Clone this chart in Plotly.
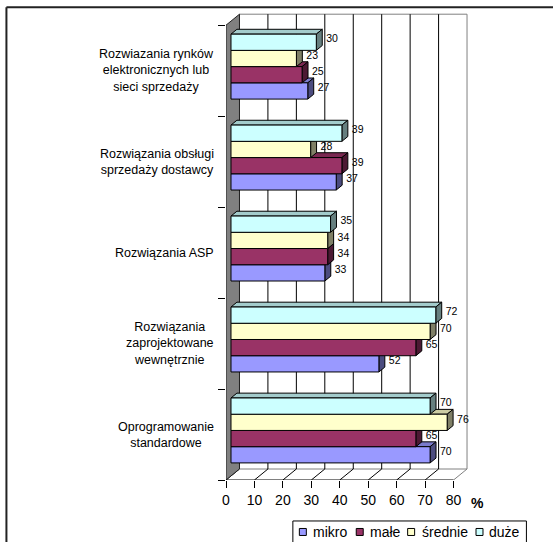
import plotly.graph_objects as go

# ---- data -------------------------------------------------------------
categories = [
    "Oprogramowanie<br>standardowe",
    "Rozwiązania<br>zaprojektowane<br>wewnętrznie",
    "Rozwiązania ASP",
    "Rozwiązania obsługi<br>sprzedaży dostawcy",
    "Rozwiazania rynków<br>elektronicznych lub<br>sieci sprzedaży",
]
series_names = ["mikro", "małe", "średnie", "duże"]
mikro = [70, 52, 33, 37, 27]
male = [65, 65, 34, 39, 25]
srednie = [76, 70, 34, 28, 23]
duze = [70, 72, 35, 39, 30]
x_ticks = [0, 10, 20, 30, 40, 50, 60, 70, 80]

series_values = [mikro, male, srednie, duze]
front_colors = ["#9999FF", "#993366", "#FFFFCC", "#CCFFFF"]

# ---- geometry (pixels) -----------------------------------------------
W, H = 553, 542
LEFT = 226.0          # pixel of x = 0 on the front plane
BOTTOM = 480.0        # pixel of the front floor line
SX = 2.85             # px per percent
SY = 91.0             # px per category
X_MAX = 90.0
Y_MAX = 5.2
PW = X_MAX * SX
PH = Y_MAX * SY

DX = 13.5 / SX        # wall depth offset in x units
DY = 11.0 / SY        # wall depth offset in y units
F1, F2 = 0.37, 0.81   # front / back depth of the bars
FM = (F1 + F2) / 2
GROUP = 0.714
BH = GROUP / 4
LABEL_PAD = 4.0 / SX  # gap between bar end and its value label


def shade(hex_color, k):
    h = hex_color.lstrip("#")
    r, g, b = (int(h[i:i + 2], 16) for i in (0, 2, 4))
    return "#%02x%02x%02x" % (int(r * k), int(g * k), int(b * k))


def px_x(p):
    return (p - LEFT) / PW


def px_y(p):
    return (BOTTOM - p) / PH


FONT = "Arial, 'Liberation Sans', sans-serif"

fig = go.Figure()
shapes = []

# ---- walls, floor and grid -------------------------------------------
n_cat = len(categories)
x_end = x_ticks[-1]
# back wall
shapes.append(dict(type="path", xref="x", yref="y", layer="below",
                   path=f"M{DX},{DY} L{x_end + DX},{DY} L{x_end + DX},{n_cat + DY} L{DX},{n_cat + DY} Z",
                   fillcolor="white", line=dict(color="#808080", width=1)))
# grid on back wall and floor
for t in x_ticks[1:-1]:
    shapes.append(dict(type="line", xref="x", yref="y", layer="below",
                       x0=t + DX, x1=t + DX, y0=DY, y1=n_cat + DY,
                       line=dict(color="#000000", width=1)))
for t in x_ticks:
    shapes.append(dict(type="line", xref="x", yref="y", layer="below",
                       x0=t, x1=t + DX, y0=0, y1=DY,
                       line=dict(color="#000000" if t < x_end else "#808080", width=1)))
# left side wall
shapes.append(dict(type="path", xref="x", yref="y", layer="below",
                   path=f"M0,0 L{DX},{DY} L{DX},{n_cat + DY} L0,{n_cat} Z",
                   fillcolor="#808080", line=dict(color="#202020", width=1)))
# front floor line (x axis line)
shapes.append(dict(type="line", xref="x", yref="y", layer="below",
                   x0=0, x1=x_end, y0=0, y1=0, line=dict(color="#000000", width=1)))

# ---- 3D bars ------------------------------------------------------------
def bar_faces(c, s, v):
    y0 = c + (1 - GROUP) / 2 + s * BH
    y1 = y0 + BH
    a1x, a1y = F1 * DX, F1 * DY
    a2x, a2y = F2 * DX, F2 * DY
    front = [(a1x, y0 + a1y), (v + a1x, y0 + a1y), (v + a1x, y1 + a1y), (a1x, y1 + a1y)]
    top = [(a1x, y1 + a1y), (v + a1x, y1 + a1y), (v + a2x, y1 + a2y), (a2x, y1 + a2y)]
    side = [(v + a1x, y0 + a1y), (v + a2x, y0 + a2y), (v + a2x, y1 + a2y), (v + a1x, y1 + a1y)]
    return front, top, side


def poly_xy(polys):
    xs, ys = [], []
    for p in polys:
        for (x, y) in p + [p[0]]:
            xs.append(x)
            ys.append(y)
        xs.append(None)
        ys.append(None)
    return xs, ys


for s, (name, vals, col) in enumerate(zip(series_names, series_values, front_colors)):
    fronts, tops, sides = [], [], []
    for c, v in enumerate(vals):
        f, t, sd = bar_faces(c, s, v)
        fronts.append(f)
        tops.append(t)
        sides.append(sd)
    for polys, fill in ((tops, shade(col, 0.8)), (sides, shade(col, 0.5)), (fronts, col)):
        xs, ys = poly_xy(polys)
        fig.add_trace(go.Scatter(x=xs, y=ys, mode="lines", fill="toself", fillcolor=fill,
                                 line=dict(color="#000000", width=1), connectgaps=False,
                                 hoverinfo="skip", showlegend=False, name=name))

# ---- value labels ------------------------------------------------------
for s, vals in enumerate(series_values):
    ys = [c + (1 - GROUP) / 2 + (s + 0.5) * BH + FM * DY for c in range(n_cat)]
    xs = [v + F2 * DX + LABEL_PAD for v in vals]
    fig.add_trace(go.Scatter(x=xs, y=ys, mode="text", text=[str(v) for v in vals],
                             textposition="middle right", cliponaxis=False,
                             textfont=dict(family=FONT, size=10.5, color="#000000"),
                             hoverinfo="skip", showlegend=False))

# ---- category labels ---------------------------------------------------
annotations = []
for c, lab in enumerate(categories):
    annotations.append(dict(xref="x", yref="y", x=0, y=c + 0.5, text=lab,
                            xanchor="right", yanchor="middle", xshift=-10, align="center",
                            showarrow=False, font=dict(family=FONT, size=12.5, color="#000000")))
annotations.append(dict(xref="paper", yref="paper", x=px_x(478), y=px_y(503), text="<b>%</b>",
                        xanchor="center", yanchor="middle", showarrow=False,
                        font=dict(family=FONT, size=14, color="#000000")))

# ---- legend box ------------------------------------------------------------
shapes.append(dict(type="rect", xref="paper", yref="paper",
                   x0=px_x(293), x1=px_x(527), y0=px_y(521), y1=px_y(560),
                   line=dict(color="#000000", width=1), fillcolor="rgba(0,0,0,0)"))
legend_sq_x = [303, 360, 411.5, 480]
legend_txt_x = [311, 368, 420, 488]
legend_y = 532
for name, col, sx_, tx in zip(series_names, front_colors, legend_sq_x, legend_txt_x):
    shapes.append(dict(type="rect", xref="paper", yref="paper",
                       x0=px_x(sx_ - 3.5), x1=px_x(sx_ + 3.5),
                       y0=px_y(legend_y + 3.5), y1=px_y(legend_y - 3.5),
                       fillcolor=col, line=dict(color="#000000", width=1)))
    annotations.append(dict(xref="paper", yref="paper", x=px_x(tx), y=px_y(legend_y), text=name,
                            xanchor="left", yanchor="middle", showarrow=False,
                            font=dict(family=FONT, size=14, color="#000000")))

# ---- outer frame ----------------------------------------------------------
shapes.append(dict(type="line", xref="paper", yref="paper",
                   x0=px_x(6), x1=px_x(W + 2), y0=px_y(7), y1=px_y(7),
                   line=dict(color="#222222", width=2)))
shapes.append(dict(type="line", xref="paper", yref="paper",
                   x0=px_x(6), x1=px_x(6), y0=px_y(7), y1=px_y(H + 2),
                   line=dict(color="#222222", width=2)))

fig.update_layout(
    width=W, height=H,
    margin=dict(l=LEFT, r=W - LEFT - PW, t=BOTTOM - PH, b=H - BOTTOM, pad=0),
    paper_bgcolor="white", plot_bgcolor="white",
    showlegend=False,
    shapes=shapes, annotations=annotations,
    xaxis=dict(range=[0, X_MAX], tickvals=x_ticks, ticktext=[str(t) for t in x_ticks],
               ticks="outside", ticklen=7, tickcolor="#000000", tickwidth=1,
               showgrid=False, zeroline=False, showline=False, fixedrange=True,
               tickfont=dict(family=FONT, size=14, color="#000000")),
    yaxis=dict(range=[0, Y_MAX], tickvals=list(range(n_cat + 1)), showticklabels=False,
               ticks="outside", ticklen=7, tickcolor="#000000", tickwidth=1,
               showgrid=False, zeroline=False, showline=False, fixedrange=True),
)

fig.write_html("out.html")
